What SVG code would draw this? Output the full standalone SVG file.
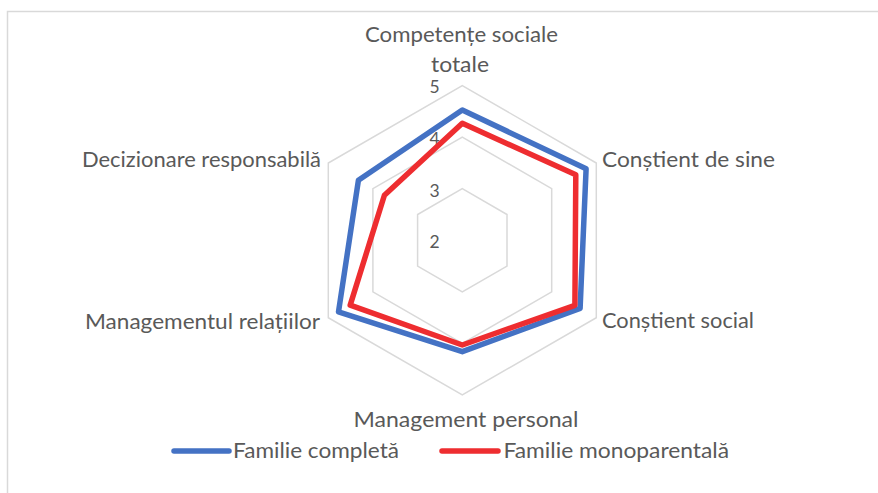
<svg xmlns="http://www.w3.org/2000/svg" width="878" height="493" viewBox="0 0 878 493">
<style>
.lbl{font-family:Lato,"Liberation Sans",sans-serif;font-size:22px;fill:#595959}
.tick{font-family:Lato,"Liberation Sans",sans-serif;font-size:17.5px;fill:#595959;text-anchor:middle}
.grid{fill:none;stroke:#D9D9D9;stroke-width:1.5}
.ser{fill:none;stroke-width:5.5;stroke-linejoin:round}
</style>
<rect x="7.5" y="11.5" width="900" height="500" fill="#FFFFFF" stroke="#D9D9D9" stroke-width="1.5"/>
<g id="grid">
<polygon class="grid" points="462.3,85.6 596.3,163.0 596.3,317.7 462.3,395.0 328.3,317.7 328.3,163.0"/>
<polygon class="grid" points="462.3,137.1 551.7,188.7 551.7,291.9 462.3,343.5 372.9,291.9 372.9,188.7"/>
<polygon class="grid" points="462.3,188.7 507,214.5 507,266.1 462.3,291.9 417.6,266.1 417.6,214.5"/>
</g>
<g id="ticks">
<text class="tick" x="434.5" y="93">5</text>
<text class="tick" x="434.5" y="145">4</text>
<text class="tick" x="434.5" y="197">3</text>
<text class="tick" x="434.5" y="248">2</text>
</g>
<g id="series">
<polygon id="familie-completa" class="ser" stroke="#4472C4" points="462.3,110 586.1,168.8 580.1,308.3 462.3,351.7 338.5,311.8 358.4,180.3"/>
<polygon id="familie-monoparentala" class="ser" stroke="#EE2D30" points="462.3,123.3 575.8,174.8 574.9,305.3 462.3,345 350.2,305.1 384.4,195.3"/>
</g>
<g id="axis-labels">
<text class="lbl" x="365" y="42" textLength="193" lengthAdjust="spacingAndGlyphs">Competențe sociale</text>
<text class="lbl" x="431" y="72" textLength="58" lengthAdjust="spacingAndGlyphs">totale</text>
<text class="lbl" x="602" y="167" textLength="173" lengthAdjust="spacingAndGlyphs">Conștient de sine</text>
<text class="lbl" x="602" y="328" textLength="152" lengthAdjust="spacingAndGlyphs">Conștient social</text>
<text class="lbl" x="353.5" y="427" textLength="225" lengthAdjust="spacingAndGlyphs">Management personal</text>
<text class="lbl" x="85" y="329" textLength="235" lengthAdjust="spacingAndGlyphs">Managementul relațiilor</text>
<text class="lbl" x="82" y="167" textLength="239" lengthAdjust="spacingAndGlyphs">Decizionare responsabilă</text>
</g>
<g id="legend">
<line x1="174" y1="451" x2="229" y2="451" stroke="#4472C4" stroke-width="5.5" stroke-linecap="round"/>
<text class="lbl" x="233" y="458" textLength="166" lengthAdjust="spacingAndGlyphs">Familie completă</text>
<line x1="442" y1="451" x2="498" y2="451" stroke="#EE2D30" stroke-width="5.5" stroke-linecap="round"/>
<text class="lbl" x="503.5" y="458" textLength="225.5" lengthAdjust="spacingAndGlyphs">Familie monoparentală</text>
</g>
</svg>
